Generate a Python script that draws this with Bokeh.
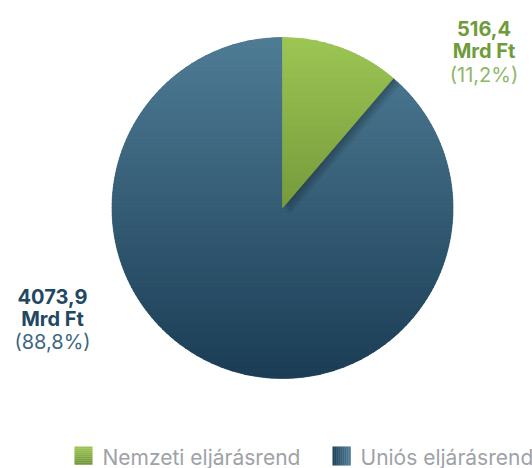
import numpy as np
from bokeh.plotting import figure
from bokeh.models import Range1d
from bokeh.core.properties import value
from bokeh.embed import file_html
from bokeh.resources import INLINE

# ---- data ----
categories = ["Nemzeti eljárásrend", "Uniós eljárásrend"]
values = [516.4, 4073.9]
value_labels = ["516,4", "4073,9"]
unit_label = "Mrd Ft"
pct_labels = ["(11,2%)", "(88,8%)"]

# ---- styles ----
W, H = 532, 468
FONT = "Inter"
grad_top = ["#9dc655", "#4f7c95"]
grad_bot = ["#769b3c", "#1b3d55"]
label_bold = ["#6f9b3a", "#1f4862"]
label_pct = ["#8db768", "#3d6781"]
legend_text_color = "#9ea2a7"
TXT_SHIFT = 5.0

cx, cy, r = 282.0, H - 207.5, 170.5

p = figure(width=W, height=H, output_backend="svg", toolbar_location=None,
           x_range=Range1d(0, W), y_range=Range1d(0, H), min_border=0)
p.axis.visible = False
p.grid.visible = False
p.outline_line_color = None
p.background_fill_color = "white"
p.border_fill_color = "white"


def hexrgb(h):
    h = h.lstrip("#")
    return np.array([int(h[i:i + 2], 16) for i in (0, 2, 4)], dtype=float)


def mix(c1, c2, t):
    c = hexrgb(c1) * (1 - t) + hexrgb(c2) * t
    return "#%02x%02x%02x" % tuple(int(round(v)) for v in c)


def clip_half(poly, yv, keep_above):
    out = []
    n = len(poly)
    for i in range(n):
        a = poly[i]
        b = poly[(i + 1) % n]
        ina = a[1] >= yv if keep_above else a[1] <= yv
        inb = b[1] >= yv if keep_above else b[1] <= yv
        if ina:
            out.append(a)
        if ina != inb:
            t = (yv - a[1]) / (b[1] - a[1])
            out.append((a[0] + t * (b[0] - a[0]), yv))
    return out


def wedge_poly(a0, a1, n=240):
    angs = np.linspace(a0, a1, n)
    pts = [(cx, cy)] + [(cx + r * np.cos(a), cy + r * np.sin(a)) for a in angs]
    return pts


total = sum(values)
fracs = [v / total for v in values]
# angles: start at top, clockwise
starts, ends = [], []
acc = 0.0
for f in fracs:
    starts.append(np.pi / 2 - 2 * np.pi * acc)
    acc += f
    ends.append(np.pi / 2 - 2 * np.pi * acc)

# base wedges (solid) through bokeh's wedge glyph
p.wedge(x=[cx] * 2, y=[cy] * 2, radius=r, start_angle=ends, end_angle=starts,
        fill_color=[mix(grad_top[i], grad_bot[i], 0.5) for i in range(2)],
        line_color=None)

polys = [wedge_poly(starts[i], ends[i]) for i in range(2)]


def gradient_patches(poly, ctop, cbot, nb=90):
    ys = [q[1] for q in poly]
    ymin, ymax = min(ys), max(ys)
    xs_l, ys_l, cols = [], [], []
    edges = np.linspace(ymin, ymax, nb + 1)
    for k in range(nb):
        pc = clip_half(poly, edges[k], True)
        if len(pc) < 3:
            continue
        pc = clip_half(pc, edges[k + 1] + 0.6, False)
        if len(pc) < 3:
            continue
        t = 1 - ((edges[k] + edges[k + 1]) / 2 - ymin) / (ymax - ymin)
        xs_l.append([q[0] for q in pc])
        ys_l.append([q[1] for q in pc])
        cols.append(mix(ctop, cbot, t))
    return xs_l, ys_l, cols


# blue slice gradient
bx, by, bc = gradient_patches(polys[1], grad_top[1], grad_bot[1])
p.patches(xs=bx, ys=by, fill_color=bc, line_color=bc, line_width=0.6)

# shadow of green slice
gx0 = [q[0] for q in polys[0]]
gy0 = [q[1] for q in polys[0]]
for k in range(1, 9):
    p.patch(x=[x + k * 0.9 for x in gx0], y=[y - k * 0.9 for y in gy0],
            fill_color="black", fill_alpha=0.035, line_color=None)

# green slice gradient
gx, gy, gc = gradient_patches(polys[0], grad_top[0], grad_bot[0])
p.patches(xs=gx, ys=gy, fill_color=gc, line_color=gc, line_width=0.6)

# ---- labels ----
lab_x = [483.5, 52.0]
lab_y = [H - 33.0 + TXT_SHIFT, H - 301.0 + TXT_SHIFT]
gap = [22.5, 22.0]
for i in range(2):
    p.text(x=[lab_x[i]], y=[lab_y[i]], text=[value_labels[i]],
           text_font=value(FONT), text_font_size="20px", text_font_style="bold",
           text_color=label_bold[i], text_align="center", text_baseline="alphabetic")
    p.text(x=[lab_x[i]], y=[lab_y[i] - gap[i]], text=[unit_label],
           text_font=value(FONT), text_font_size="20px", text_font_style="bold",
           text_color=label_bold[i], text_align="center", text_baseline="alphabetic")
    p.text(x=[lab_x[i]], y=[lab_y[i] - 2 * gap[i] - 1], text=[pct_labels[i]],
           text_font=value(FONT), text_font_size="20px", text_font_style="normal",
           text_color=label_pct[i], text_align="center", text_baseline="alphabetic")

# ---- legend ----
leg_sq_x = [74.0, 332.0]
leg_txt_x = [102.0, 360.0]
leg_base = H - 468.0 + 3.0
sq = 18.0
leg_dirs = ["v", "h"]
leg_c1 = ["#9cc454", "#1e4159"]
leg_c2 = ["#729839", "#4e7b94"]
for i in range(2):
    nstrip = 9
    for s in range(nstrip):
        t = s / (nstrip - 1)
        col = mix(leg_c1[i], leg_c2[i], t)
        if leg_dirs[i] == "v":
            top = leg_base + sq + 1 - s * sq / nstrip
            p.quad(left=leg_sq_x[i], right=leg_sq_x[i] + sq, top=top, bottom=top - sq / nstrip - 0.3,
                   fill_color=col, line_color=None)
        else:
            left = leg_sq_x[i] + s * sq / nstrip
            p.quad(left=left, right=left + sq / nstrip + 0.3, top=leg_base + sq + 1, bottom=leg_base,
                   fill_color=col, line_color=None)
    p.text(x=[leg_txt_x[i]], y=[leg_base + 3 + TXT_SHIFT], text=[categories[i]],
           text_font=value(FONT), text_font_size="21px",
           text_color=legend_text_color, text_align="left", text_baseline="alphabetic")

open("out.html", "w").write(file_html(p, INLINE))
